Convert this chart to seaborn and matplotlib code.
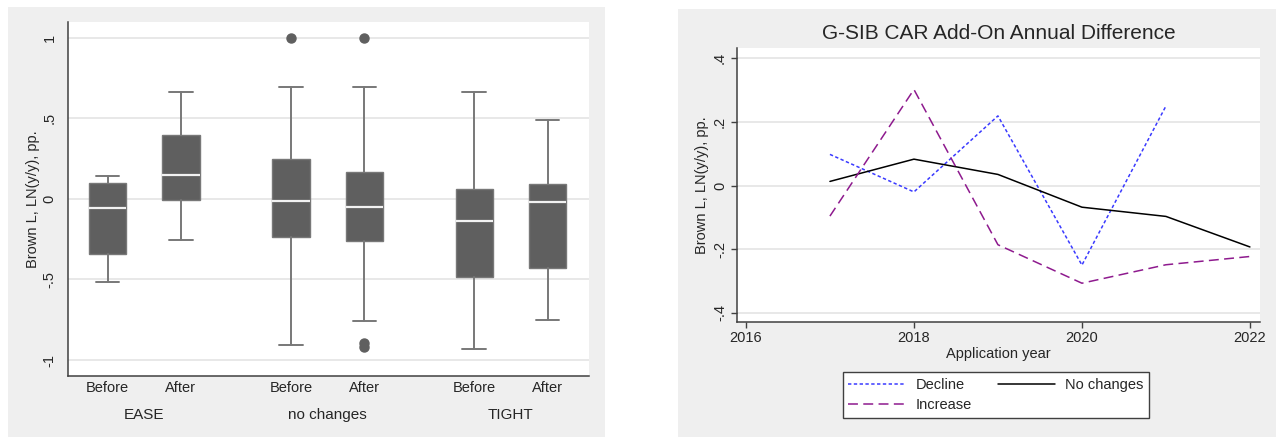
import numpy as np
import pandas as pd
import matplotlib
matplotlib.use('Agg')
import matplotlib.pyplot as plt
import seaborn as sns
from matplotlib.patches import Rectangle
from matplotlib.lines import Line2D

# Box plot (links): samenvattende statistieken per groep
groups = ['EASE', 'no changes', 'TIGHT']
periods = ['Before', 'After']
whisk_lo = [-0.517, -0.254, -0.909, -0.756, -0.930, -0.754]
q1 = [-0.343, -0.008, -0.236, -0.260, -0.483, -0.428]
medians = [-0.056, 0.145, -0.012, -0.050, -0.140, -0.021]
q3 = [0.097, 0.395, 0.246, 0.167, 0.060, 0.095]
whisk_hi = [0.140, 0.665, 0.694, 0.694, 0.665, 0.490]
outliers = [[], [], [1.0], [1.0, -0.895, -0.92], [], []]

# Lijnplot (rechts)
years = [2017, 2018, 2019, 2020, 2021, 2022]
decline = [0.098, -0.020, 0.219, -0.250, 0.250, np.nan]
no_changes = [0.013, 0.083, 0.035, -0.068, -0.097, -0.193]
increase = [-0.096, 0.302, -0.186, -0.307, -0.249, -0.223]

sns.set_style('white')
plt.rcParams['font.family'] = ['Liberation Sans', 'DejaVu Sans']

fig = plt.figure(figsize=(12.76, 4.37), dpi=100)
fig.patch.set_facecolor('white')

W, H = 1276, 437
bg = '#efefef'
# grijze achtergrond van beide panelen
fig.patches.append(Rectangle((8 / W, 0), 597 / W, 430 / H, transform=fig.transFigure,
                             facecolor=bg, edgecolor='none', zorder=-5))
fig.patches.append(Rectangle((678 / W, 0), 598 / W, 428 / H, transform=fig.transFigure,
                             facecolor=bg, edgecolor='none', zorder=-5))

axis_col = '#404040'
grid_col = '#e6e6e6'

# ---------- linker paneel ----------
ax1 = fig.add_axes([67.7 / W, (H - 375.7) / H, 521.3 / W, 353.7 / H])
ax1.set_facecolor('white')

positions = []
for gi in range(len(groups)):
    for pi in range(len(periods)):
        positions.append(gi * 2.5 + pi)

stats = []
for i in range(len(positions)):
    stats.append(dict(whislo=whisk_lo[i], q1=q1[i], med=medians[i], q3=q3[i],
                      whishi=whisk_hi[i], fliers=outliers[i]))

ax1.bxp(stats, positions=positions, widths=0.51, patch_artist=True,
        boxprops=dict(facecolor='#5f5f5f', edgecolor='#787878', linewidth=1.0),
        medianprops=dict(color='#f2f2f2', linewidth=1.6),
        whiskerprops=dict(color='#787878', linewidth=1.4),
        capprops=dict(color='#787878', linewidth=1.4),
        capwidths=0.32,
        flierprops=dict(marker='o', markerfacecolor='#5f5f5f', markeredgecolor='#5f5f5f',
                        markersize=6.5))

ax1.set_xlim(-0.545, 6.566)
ax1.set_ylim(-1.097, 1.097)
ax1.set_yticks([-1, -0.5, 0, 0.5, 1])
ax1.set_yticklabels(['-1', '-.5', '0', '.5', '1'], rotation=90, va='center', fontsize=10.5)
ax1.set_xticks(positions)
ax1.set_xticklabels(periods * len(groups), fontsize=10.5)
ax1.tick_params(axis='y', length=0, pad=8)
ax1.tick_params(axis='x', length=0, pad=4)
ax1.yaxis.grid(True, color=grid_col, linewidth=1.3)
ax1.set_axisbelow(True)
for s in ['top', 'right']:
    ax1.spines[s].set_visible(False)
for s in ['left', 'bottom']:
    ax1.spines[s].set_color(axis_col)
    ax1.spines[s].set_linewidth(1.1)
ax1.set_ylabel('Brown L, LN(y/y), pp.', fontsize=10.5, labelpad=2)
for gi, g in enumerate(groups):
    ax1.text(gi * 2.5 + 0.5, -0.11, g, transform=ax1.get_xaxis_transform(),
             ha='center', va='center', fontsize=11)

# ---------- rechter paneel ----------
ax2 = fig.add_axes([736.7 / W, (H - 321.7) / H, 523.3 / W, 273.4 / H])
ax2.set_facecolor('white')

df = pd.DataFrame({'year': years, 'Decline': decline,
                   'No changes': no_changes, 'Increase': increase})

sns.lineplot(data=df, x='year', y='Decline', ax=ax2, color='#3a3aff',
             linewidth=1.1, dashes=False)
sns.lineplot(data=df, x='year', y='No changes', ax=ax2, color='black',
             linewidth=1.1)
sns.lineplot(data=df, x='year', y='Increase', ax=ax2, color='#8e1a8e',
             linewidth=1.1)
ax2.lines[0].set_dashes([2.2, 1.6])
ax2.lines[2].set_dashes([6.5, 3.5])

ax2.set_xlim(2015.89, 2022.12)
ax2.set_ylim(-0.428, 0.4315)
ax2.set_xticks([2016, 2018, 2020, 2022])
ax2.set_xticklabels(['2016', '2018', '2020', '2022'], fontsize=10.5)
ax2.set_yticks([-0.4, -0.2, 0, 0.2, 0.4])
ax2.set_yticklabels(['-.4', '-.2', '0', '.2', '.4'], rotation=90, va='center', fontsize=10.5)
ax2.tick_params(axis='both', length=4, width=1.0, color=axis_col, pad=3, left=True, bottom=True)
ax2.yaxis.grid(True, color=grid_col, linewidth=1.3)
ax2.set_axisbelow(True)
for s in ['top', 'right']:
    ax2.spines[s].set_visible(False)
for s in ['left', 'bottom']:
    ax2.spines[s].set_color(axis_col)
    ax2.spines[s].set_linewidth(1.1)
ax2.set_xlabel('Application year', fontsize=10.5, labelpad=1)
ax2.set_ylabel('Brown L, LN(y/y), pp.', fontsize=10.5, labelpad=3)
ax2.set_title('G-SIB CAR Add-On Annual Difference', fontsize=15, pad=7)

handles = [Line2D([], [], color='#3a3aff', lw=1.1, dashes=[2.2, 1.6]),
           Line2D([], [], color='#8e1a8e', lw=1.1, dashes=[6.5, 3.5]),
           Line2D([], [], color='black', lw=1.1)]
leg = fig.legend(handles, ['Decline', 'Increase', 'No changes'], ncol=2,
                 loc='center', bbox_to_anchor=(996 / W, (H - 395) / H),
                 fontsize=10.5, frameon=True, fancybox=False, handlelength=3.9,
                 columnspacing=1.8, labelspacing=0.45, borderpad=0.4, handletextpad=0.7,
                 framealpha=1.0, facecolor='white')
leg.get_frame().set_edgecolor(axis_col)
leg.get_frame().set_linewidth(1.0)

fig.savefig('out.png', dpi=100, facecolor='white')
